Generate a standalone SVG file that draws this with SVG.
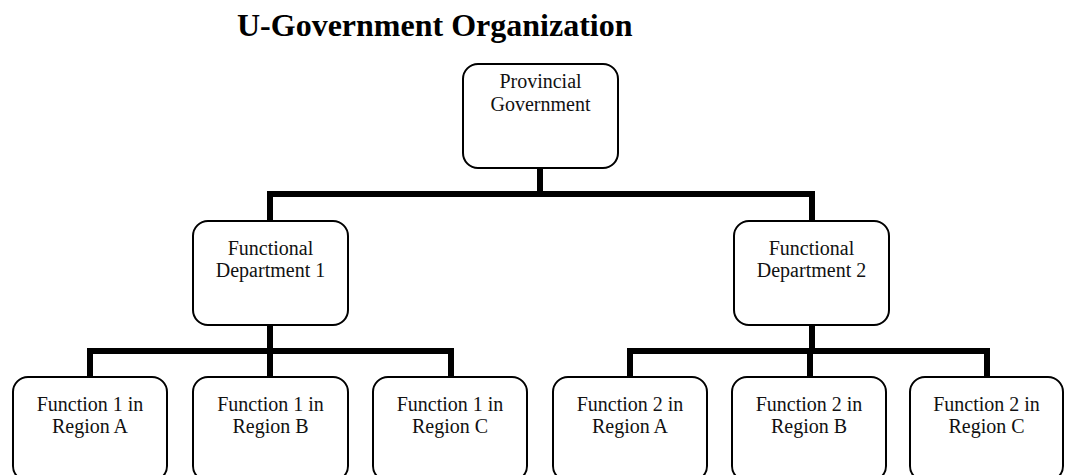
<svg xmlns="http://www.w3.org/2000/svg" width="1069" height="475" viewBox="0 0 1069 475">
<style>
.box{fill:#fff;stroke:#000;stroke-width:2}
.lbl{font-family:"Liberation Serif","Times New Roman",serif;font-size:20px;fill:#111;text-anchor:middle}
.title{font-family:"Liberation Serif","Times New Roman",serif;font-size:32px;font-weight:bold;fill:#000}
.conn{fill:none;stroke:#000;stroke-width:6;stroke-linecap:square;stroke-linejoin:miter}
</style>
<rect width="1069" height="475" fill="#fff"/>
<text class="title" x="237" y="36">U-Government Organization</text>
<g id="connectors">
<path class="conn" d="M540,169 V194"/>
<path class="conn" d="M270,221 V194 H812 V221"/>
<path class="conn" d="M270,326 V351"/>
<path class="conn" d="M90,377 V351 H451 V377"/>
<path class="conn" d="M270,351 V377"/>
<path class="conn" d="M812,326 V351"/>
<path class="conn" d="M630,377 V351 H987 V377"/>
<path class="conn" d="M810,351 V377"/>
</g>
<g id="provincial">
<rect class="box" x="463" y="64" width="155" height="104" rx="15"/>
<text class="lbl" x="540.5" y="88">Provincial</text>
<text class="lbl" x="540.5" y="111">Government</text>
</g>
<g id="dept1">
<rect class="box" x="193" y="221" width="155" height="104" rx="15"/>
<text class="lbl" x="270.5" y="255">Functional</text>
<text class="lbl" x="270.5" y="277">Department 1</text>
</g>
<g id="dept2">
<rect class="box" x="734" y="221" width="155" height="104" rx="15"/>
<text class="lbl" x="811.5" y="255">Functional</text>
<text class="lbl" x="811.5" y="277">Department 2</text>
</g>
<g id="f1a">
<rect class="box" x="13" y="377" width="154" height="104" rx="15"/>
<text class="lbl" x="90" y="411">Function 1 in</text>
<text class="lbl" x="90" y="433">Region A</text>
</g>
<g id="f1b">
<rect class="box" x="193" y="377" width="155" height="104" rx="15"/>
<text class="lbl" x="270.5" y="411">Function 1 in</text>
<text class="lbl" x="270.5" y="433">Region B</text>
</g>
<g id="f1c">
<rect class="box" x="373" y="377" width="154" height="104" rx="15"/>
<text class="lbl" x="450" y="411">Function 1 in</text>
<text class="lbl" x="450" y="433">Region C</text>
</g>
<g id="f2a">
<rect class="box" x="553" y="377" width="154" height="104" rx="15"/>
<text class="lbl" x="630" y="411">Function 2 in</text>
<text class="lbl" x="630" y="433">Region A</text>
</g>
<g id="f2b">
<rect class="box" x="732" y="377" width="154" height="104" rx="15"/>
<text class="lbl" x="809" y="411">Function 2 in</text>
<text class="lbl" x="809" y="433">Region B</text>
</g>
<g id="f2c">
<rect class="box" x="910" y="377" width="153" height="104" rx="15"/>
<text class="lbl" x="986.5" y="411">Function 2 in</text>
<text class="lbl" x="986.5" y="433">Region C</text>
</g>
</svg>
